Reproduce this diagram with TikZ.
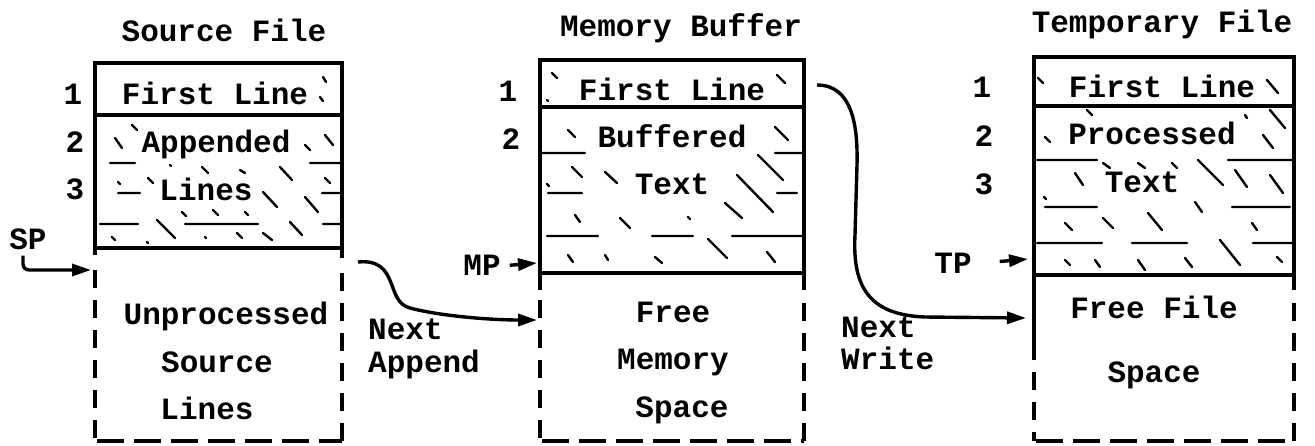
\documentclass[tikz,border=0pt]{standalone}
\usepackage{fontspec}
\setmonofont{Liberation Mono}
\usetikzlibrary{arrows.meta}
\begin{document}
\begin{tikzpicture}[x=1pt,y=-1pt,
	lbl/.style={font=\fontsize{31}{36}\selectfont\ttfamily\bfseries,inner sep=0pt,text height=19pt,text depth=0pt},
	wall/.style={line width=3.2pt},
	open/.style={line width=3.2pt,dash pattern=on 18pt off 12pt},
	openbase/.style={line width=3.2pt,dash pattern=on 27pt off 10pt},
	hatch/.style={line width=2.4pt,line cap=round},
	ptr/.style={line width=3.4pt,-{Triangle[length=19pt,width=12pt]}}]
	\useasboundingbox (0,0) rectangle (1315,445);
	\node[lbl] at (224,32) (srctitle) {Source File};
	\node[lbl] at (681,27) (memtitle) {Memory Buffer};
	\node[lbl] at (1162,23) (tmptitle) {Temporary File};
	
	\node[lbl] at (73,95) (src1) {1};
	\node[lbl] at (75,143) (src2) {2};
	\node[lbl] at (75,190) (src3) {3};
	\node[lbl] at (508,92) (mem1) {1};
	\node[lbl] at (511,140) (mem2) {2};
	\node[lbl] at (982,88) (tmp1) {1};
	\node[lbl] at (984,137) (tmp2) {2};
	\node[lbl] at (984,185) (tmp3) {3};
	
	\node[lbl] at (215,95) (srcfirst) {First Line};
	\node[lbl] at (216,143) (srcapp) {Appended};
	\node[lbl] at (206,191) (srclines) {Lines};
	\node[lbl] at (226,315) (srcun) {Unprocessed};
	\node[lbl] at (217,363) (srcsrc) {Source};
	\node[lbl] at (207,410) (srcrest) {Lines};
	\node[lbl] at (672,91) (memfirst) {First Line};
	\node[lbl] at (672,138) (membuf) {Buffered};
	\node[lbl] at (672,185) (memtext) {Text};
	\node[lbl] at (673,313) (memfree) {Free};
	\node[lbl] at (673,360) (memmem) {Memory};
	\node[lbl] at (682,408) (memspace) {Space};
	\node[lbl] at (1162,88) (tmpfirst) {First Line};
	\node[lbl] at (1152,135) (tmpproc) {Processed};
	\node[lbl] at (1142,183) (tmptext) {Text};
	\node[lbl] at (1154,309) (tmpfree) {Free File};
	\node[lbl] at (1154,373) (tmpspace) {Space};
	
	\node[lbl] at (28,240) (sp) {SP};
	\node[lbl] at (482,266) (mp) {MP};
	\node[lbl] at (953,264) (tp) {TP};
	\node[lbl,anchor=west] at (368,330) (nexta) {Next};
	\node[lbl,anchor=west] at (368,363) (append) {Append};
	\node[lbl,anchor=west] at (841,328) (nextw) {Next};
	\node[lbl,anchor=west] at (841,360) (write) {Write};
	
	\draw[wall] (95,255) -- (95,63) -- (342,63) -- (342,258);
	\draw[wall] (95,115) -- (342,115) (95,248) -- (342,248);
	\draw[open] (95,270) -- (95,441) (342,441) -- (342,270);
	\draw[openbase] (97,441) -- (342,441);
	\draw[wall] (540,290) -- (540,60) -- (804,60) -- (804,290);
	\draw[wall] (540,107) -- (804,107) (540,273) -- (804,273);
	\draw[open] (540,300) -- (540,441) (804,441) -- (804,300);
	\draw[openbase] (542,441) -- (804,441);
	\draw[wall] (1034,360) -- (1034,57) -- (1294,57) -- (1294,290);
	\draw[wall] (1034,106) -- (1294,106) (1034,275) -- (1294,275);
	\draw[open] (1034,372) -- (1034,441) (1294,441) -- (1294,300);
	\draw[openbase] (1036,441) -- (1294,441);
	
	\draw[hatch] (323,77) -- (326,82) (320,97) -- (323,101)
	(115,138) -- (122,148) (132,125) -- (137,130) (305,145) -- (310,150) (325,135) -- (333,145)
	(110,163) -- (135,163) (310,163) -- (342,163)
	(170,165) -- (171,166) (202,167) -- (208,173) (240,170) -- (245,173) (280,167) -- (292,180)
	(325,178) -- (330,183) (118,182) -- (120,184) (148,178) -- (153,183) (263,192) -- (277,207)
	(305,197) -- (318,212)
	(118,193) -- (140,193) (322,193) -- (342,193)
	(157,220) -- (175,238) (182,212) -- (186,216) (213,210) -- (218,215) (245,212) -- (248,215)
	(290,222) -- (302,235)
	(100,224) -- (138,224) (185,224) -- (258,224) (323,224) -- (342,224)
	(112,237) -- (115,240) (147,242) -- (148,243) (205,237) -- (206,238) (237,233) -- (242,238)
	(263,233) -- (272,240);
	\draw[hatch] (552,73) -- (557,78) (777,75) -- (785,83) (547,100) -- (548,101)
	(568,130) -- (575,137) (775,127) -- (788,140)
	(542,153) -- (585,153) (775,153) -- (803,153)
	(572,167) -- (582,177) (605,172) -- (617,183) (758,155) -- (783,180) (737,175) -- (773,212)
	(547,184) -- (549,186) (725,203) -- (742,218)
	(548,193) -- (582,193) (777,193) -- (797,193)
	(575,215) -- (580,222) (620,218) -- (630,228) (688,217) -- (690,219)
	(547,236) -- (598,236) (652,236) -- (693,236) (732,236) -- (803,236)
	(708,239) -- (727,258)
	(568,255) -- (573,262) (605,255) -- (608,260) (655,257) -- (662,263) (767,252) -- (775,262);
	\draw[hatch] (1038,78) -- (1043,83) (1267,80) -- (1278,93)
	(1087,110) -- (1092,115) (1270,110) -- (1285,128) (1245,115) -- (1247,118) (1263,135) -- (1273,148)
	(1045,137) -- (1050,142)
	(1037,160) -- (1097,160) (1228,160) -- (1292,160)
	(1103,163) -- (1110,168) (1138,163) -- (1145,168) (1172,163) -- (1177,168) (1198,160) -- (1223,185)
	(1235,170) -- (1247,187) (1270,175) -- (1283,193) (1075,173) -- (1083,185) (1044,197) -- (1046,199)
	(1195,202) -- (1202,212)
	(1045,207) -- (1097,207) (1232,207) -- (1290,207)
	(1065,223) -- (1072,230) (1103,218) -- (1113,228) (1148,213) -- (1162,230) (1252,223) -- (1257,230)
	(1037,243) -- (1102,243) (1132,243) -- (1187,243) (1253,243) -- (1292,243)
	(1065,260) -- (1070,265) (1095,260) -- (1100,267) (1138,260) -- (1145,270) (1185,258) -- (1192,267)
	(1220,240) -- (1240,265) (1277,257) -- (1282,262);
	
	\coordinate (spto) at (91,270);
	\coordinate (mpto) at (537,263);
	\coordinate (tpto) at (1028,259);
	\coordinate (srcout) at (358,262);
	\coordinate (memin) at (537,320);
	\coordinate (memout) at (817,85);
	\coordinate (tmpin) at (1026,318);
	\draw[ptr,rounded corners=6pt] ([xshift=-5pt,yshift=-6pt]sp.south) |- (spto);
	\draw[ptr,shorten <=9pt] (mp.east) -- (mpto);
	\draw[ptr,shorten <=28pt] (tp.east) -- (tpto);
	\draw[ptr] (srcout) .. controls (400,258) and (385,302) .. (410,308)
	.. controls (440,316) and (490,320) .. (memin);
	\draw[ptr] (memout) .. controls (852,85) and (858,125) .. (857,165) -- (855,235)
	.. controls (852,290) and (872,315) .. (925,317) -- (tmpin);
\end{tikzpicture}
\end{document}
